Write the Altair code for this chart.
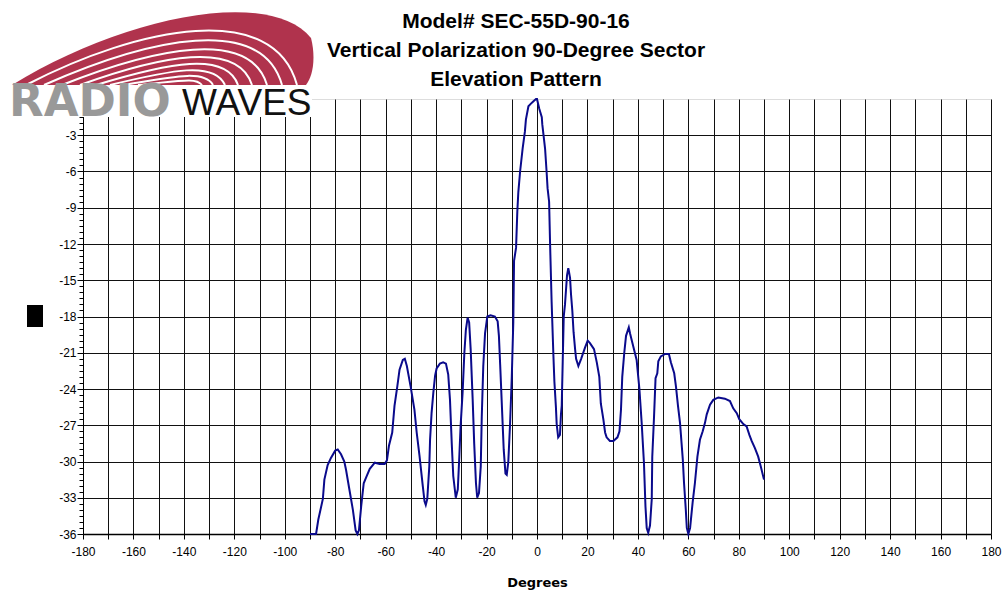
import altair as alt
import pandas as pd

# ---------------- data ----------------
degrees = [-90, -87.6, -86.7, -84.9, -84.3, -83, -81.7, -80, -79, -77.7, -76.4, -75.7, -74.4, -73,
           -71.9, -71.2, -70.6, -69.7, -68.7, -67.7, -66.3, -64.3, -62.4, -60.4, -59.5, -58.7, -57.4,
           -56.5, -55.4, -54.5, -53.2, -52.4, -51.6, -50.1, -48.6, -47.7, -46.6, -45.3, -44.6, -44.1,
           -43.5, -42.7, -42.4, -41.8, -41.1, -40.4, -39.8, -38.5, -37.2, -36.1, -35.2, -34.5, -33.8,
           -33.2, -32.2, -31.4, -30.8, -30.3, -29.5, -28.8, -28.2, -27.5, -26.9, -26.3, -25.5, -24.9,
           -24.2, -23.7, -23, -22.3, -21.9, -21.3, -20.6, -19.7, -18.4, -16.7, -15.6, -15.1, -14.6,
           -13.9, -13.2, -12.5, -12, -11.4, -10.7, -10, -9.4, -9.1, -8.3, -7.8, -7.4, -6.7, -5.7, -4.8,
           -4.4, -3.4, -2.5, -1.5, -0.4, 0, 0.9, 1.9, 2.1, 3.2, 3.8, 4.2, 4.8, 5.2, 5.8, 6.5, 6.9, 7.5,
           7.8, 8.4, 9.1, 9.5, 9.8, 10.2, 10.6, 11.1, 11.5, 11.9, 12.4, 12.6, 13.1, 13.5, 14, 14.5,
           15.1, 15.5, 16.4, 17.5, 19, 20.1, 21, 22.6, 23.7, 24.7, 25.3, 26.3, 27, 27.6, 28.9, 30.3,
           31.9, 32.7, 33.3, 33.8, 34.6, 35.3, 36.4, 36.9, 38.2, 39.5, 40.6, 41.5, 42.4, 43, 43.5,
           44.1, 44.8, 45.5, 45.7, 46.4, 47, 47.7, 48.1, 49.1, 50.8, 52.3, 53.1, 54.4, 55.1, 55.9,
           56.7, 57.8, 58.3, 59, 59.4, 60, 60.7, 61.7, 62.6, 63.6, 64.6, 65.7, 66.6, 67.3, 68.6, 69.9,
           71.9, 74.5, 76.5, 77.8, 79.2, 80.2, 81.8, 83.1, 84.2, 85.1, 86.4, 87.7, 88.7, 90]
gain_db = [-36, -36, -34.8, -33.1, -31.5, -30.3, -29.7, -29.1, -29, -29.4, -30, -30.7, -32.3, -34,
           -35.7, -36, -35.7, -33.7, -31.8, -31.3, -30.6, -30.1, -30.2, -30.2, -29.9, -28.7, -27.6,
           -25.4, -23.8, -22.4, -21.6, -21.5, -22.1, -23.8, -25.7, -27.6, -29.5, -32, -33.3, -33.6,
           -33.1, -30.4, -28.2, -26, -24.3, -22.9, -22.3, -21.9, -21.8, -21.9, -22.8, -24.9, -28.5,
           -31.2, -33, -32.3, -29.6, -27.1, -24.3, -21, -19.1, -18.1, -18.5, -20.7, -24.9, -28.5,
           -31.8, -33, -32.6, -30.4, -26.3, -22.1, -19.4, -18, -17.9, -18, -18.4, -19.6, -22,
           -25.5, -29, -31, -31.1, -30.1, -27, -23, -18.5, -13.4, -12.3, -9.3, -7.7, -6, -4.1, -2.7,
           -1.7, -0.6, -0.4, -0.2, 0, 0, -0.8, -1.5, -2.1, -4.1, -6, -7.4, -8.5, -12.1, -16.8, -21.2, -23.4, -25.5,
           -26.9, -28, -27.8, -26.1, -25.4, -21.7, -18, -17, -15.8, -14.6, -14, -14.2, -14.8, -16.2, -17.5, -19.3,
           -20.7, -21.5, -22.1, -21.5, -20.6, -20, -20.2, -20.7, -21.8, -23, -25.2, -26.5, -27.6, -28, -28.3, -28.3,
           -28, -27.5, -25.7, -23, -21, -19.6, -18.9, -19.4, -20.5, -21.6, -24, -26.8, -30.1, -33.7, -35.5,
           -35.9, -35.3, -33.1, -29.6, -26.3, -23.1, -22.7, -21.7, -21.3, -21.1, -21.1, -21.8, -22.7, -23.8, -25.4,
           -26.8, -29.8, -31.8, -34, -35.5, -36, -35.5, -33.4, -31.8, -29.6, -28.2, -27.5, -26.8, -26.1, -25.3, -24.9,
           -24.7, -24.8, -25, -25.6, -26, -26.5, -26.9, -27.1, -27.8, -28.3, -28.9, -29.6, -30.4, -31.5]

x_ticks = list(range(-180, 181, 10))
y_ticks = [-36 + 0.5 * k for k in range(72)]

title_lines = ["Model# SEC-55D-90-16",
               "Vertical Polarization 90-Degree Sector",
               "Elevation Pattern"]
x_title = "Degrees"
logo_words = ["RADIO", "WAVES"]

# logo artwork (SVG paths, pixel units)
logo_red_path = "M12,85 C120,18 268,-14 311,38 C316,58 313,76 306,85 Z"
logo_white_arcs = [
    "M26,85 C140,26 274,0 297,85",
    "M44,85 C150,38 262,14 282,85",
    "M62,85 C155,48 250,28 267,85",
    "M80,85 C160,56 238,40 252,85",
    "M96,85 C168,63 226,51 238,85",
    "M110,85 C172,70 214,61 225,85",
    "M124,85 C176,76 204,70 213,85",
    "M138,85 C180,81 196,77 202,85",
]

df = pd.DataFrame({"deg": degrees, "db": gain_db, "i": list(range(len(degrees)))})

PLOT_W, PLOT_H = 908, 435
LEFT, TOP = 83, 99

x_scale = alt.Scale(domain=[-180, 180], nice=False, zero=False)
y_scale = alt.Scale(domain=[-36, 0], nice=False, zero=False)

x_axis = alt.Axis(
    values=x_ticks,
    labelExpr="datum.value % 20 == 0 ? toString(datum.value) : ''",
    grid=True, gridColor="#111", gridWidth=1,
    tickColor="#000", tickSize=5, domainColor="#000", domainWidth=1.5,
    labelFont="Liberation Sans", labelFontSize=12, labelColor="#000", labelPadding=7,
    labelFlush=False, labelOverlap=False,
    title=x_title, titleFont="DejaVu Sans", titleFontSize=13, titleFontWeight="bold",
    titleColor="#000", titlePadding=19,
)
y_axis = alt.Axis(
    values=y_ticks,
    labelExpr="(datum.value % 3 == 0 && datum.value != 0) ? toString(datum.value) : ''",
    grid=True, gridColor="#111", gridWidth=1,
    gridOpacity={"condition": {"test": "datum.value % 3 == 0 && datum.value > -36", "value": 1}, "value": 0},
    tickColor="#000",
    tickSize={"condition": {"test": "datum.value % 3 == 0", "value": 6}, "value": 4},
    domainColor="#000", domainWidth=1,
    labelFont="Liberation Sans", labelFontSize=12, labelColor="#000", labelPadding=1,
    labelFlush=False, labelOverlap=False,
    title=None,
)

curve = alt.Chart(df).mark_line(color="#0a0a8c", strokeWidth=2).encode(
    x=alt.X("deg:Q", scale=x_scale, axis=x_axis),
    y=alt.Y("db:Q", scale=y_scale, axis=y_axis),
    order="i:Q",
)

# white patch under the logo (hides the grid corner like the pasted picture)
cover = alt.Chart(pd.DataFrame({"k": [0]})).mark_rect(color="white").encode(
    x=alt.value(-LEFT), x2=alt.value(312 - LEFT), y=alt.value(-TOP), y2=alt.value(117 - TOP)
)

logo_red = alt.Chart(pd.DataFrame({"path": [logo_red_path]})).mark_point(
    filled=True, fill="#b0334d", size=4, opacity=1
).encode(x=alt.value(-LEFT), y=alt.value(-TOP), shape=alt.Shape("path:N", scale=None, legend=None))
logo_white = alt.Chart(pd.DataFrame({"path": logo_white_arcs})).mark_point(
    filled=False, stroke="white", strokeWidth=2, size=4, opacity=1
).encode(x=alt.value(-LEFT), y=alt.value(-TOP), shape=alt.Shape("path:N", scale=None, legend=None))

radio_txt = alt.Chart(pd.DataFrame({"t": [logo_words[0]]})).mark_text(
    font="DejaVu Sans", fontSize=45, fontWeight="bold", color="#999999",
    align="left", baseline="alphabetic"
).encode(text="t:N", x=alt.value(9 - LEFT), y=alt.value(116 - TOP))
waves_txt = alt.Chart(pd.DataFrame({"t": [logo_words[1]]})).mark_text(
    font="Liberation Sans", fontSize=37, color="#111",
    align="left", baseline="alphabetic"
).encode(text="t:N", x=alt.value(182 - LEFT), y=alt.value(115 - TOP))

# chart title (three centred lines)
title_txt = alt.Chart(pd.DataFrame({"t": ["\n".join(title_lines)]})).mark_text(
    font="Liberation Sans", fontSize=21, fontWeight="bold", color="#000",
    align="center", baseline="alphabetic", lineBreak="\n", lineHeight=29
).encode(text="t:N", x=alt.value(516 - LEFT), y=alt.value(28 - TOP))

# the solid black box standing in for the y-axis title
ybox = alt.Chart(pd.DataFrame({"k": [0]})).mark_rect(color="black").encode(
    x=alt.value(27 - LEFT), x2=alt.value(43 - LEFT), y=alt.value(305 - TOP), y2=alt.value(327 - TOP)
)

chart = alt.layer(curve, cover, logo_red, logo_white, radio_txt, waves_txt, title_txt, ybox).properties(
    width=PLOT_W, height=PLOT_H,
    autosize=alt.AutoSizeParams(type="none"),
    padding={"left": LEFT, "top": TOP, "right": 1004 - LEFT - PLOT_W, "bottom": 596 - TOP - PLOT_H},
).configure_view(stroke="#999", strokeWidth=1).configure(background="white")

chart.save("out.html", embed_options={"renderer": "svg", "actions": False})
